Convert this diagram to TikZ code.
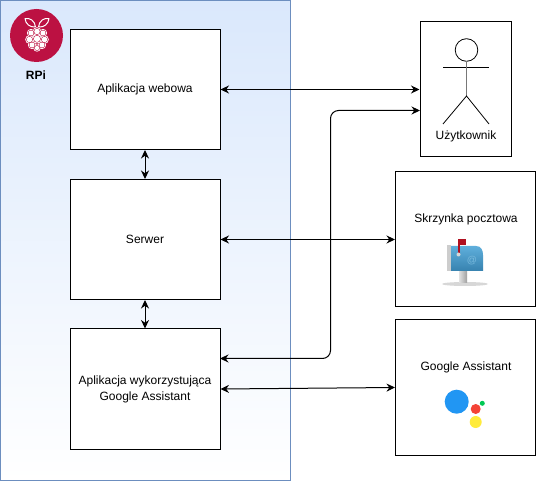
\documentclass[tikz,border=0pt]{standalone}
\usepackage{fontspec}
\setmainfont{Liberation Sans}
\usetikzlibrary{arrows.meta}
\definecolor{rpired}{RGB}{188,17,66}
\tikzset{
  blok/.style={draw=black,fill=white,line width=1pt,minimum width=150,minimum height=120,inner sep=0pt,align=center,font=\fontsize{12}{16}\selectfont},
  zew/.style={draw=black,fill=white,line width=1pt,minimum width=140,minimum height=135,inner sep=0pt},
  opis/.style={inner sep=0pt,align=center,font=\fontsize{12}{16}\selectfont},
  lacze/.style={line width=1pt,{Stealth[length=8.5pt,width=8pt]}-{Stealth[length=8.5pt,width=8pt]}},
}
\begin{document}
\begin{tikzpicture}[x=1pt,y=1pt,yscale=-1,xscale=1]
\useasboundingbox (0,0) rectangle (536,481);

%RPi area
\path [top color={rgb,255:red,218;green,232;blue,252},bottom color=white] (0.5,0.5) rectangle (290.5,480.5);
\draw [color={rgb,255:red,108;green,142;blue,191},line width=1pt] (0.5,0.5) rectangle (290.5,480.5);

%RPi logo
\fill [rpired] (36.5,35.5) circle [radius=26.5];
\draw [white,line width=1pt,line join=round] (35.5,27) .. controls (30,27.5) and (25.5,24) .. (25,18.5) .. controls (30,17.5) and (35,21) .. (35.5,27) ;
\draw [white,line width=1pt,line join=round] (38.5,27) .. controls (44,27.5) and (48.5,24) .. (49,18.5) .. controls (44,17.5) and (39,21) .. (38.5,27) ;
\foreach \bx/\by/\br in {37/31.5/2.8,31/33/2.6,43/33/2.6,37/38.8/3.2,29.5/39.5/2.8,44.5/39.5/2.8,32/45/2.6,42/45/2.6,37/48/2.2}
  \fill [white] (\bx,\by) circle [radius=\br+1.5];
\foreach \bx/\by/\br in {37/31.5/2.8,31/33/2.6,43/33/2.6,37/38.8/3.2,29.5/39.5/2.8,44.5/39.5/2.8,32/45/2.6,42/45/2.6,37/48/2.2}
  \fill [rpired] (\bx,\by) circle [radius=\br+0.6];
\foreach \bx/\by/\br in {37/31.5/2.8,31/33/2.6,43/33/2.6,37/38.8/3.2,29.5/39.5/2.8,44.5/39.5/2.8,32/45/2.6,42/45/2.6,37/48/2.2}
  \fill [white] (\bx,\by) circle [radius=\br];

%Boxes
\node (web) [blok] at (145,89.5) {Aplikacja webowa};
\node (serwer) [blok] at (145,239.5) {Serwer};
\node (asystent) [blok] at (145,389) {Aplikacja wykorzystująca\\Google Assistant};
\node (user) [zew,minimum width=91,minimum height=135] at (465.5,89.5) {};
\node (poczta) [zew] at (465.5,239.5) {};
\node (google) [zew] at (465.5,387.5) {};

% Text Node
\node (rpi) [opis,font=\fontsize{12}{14}\bfseries] at (36,75) {RPi};
\node (uzytkownik) [opis] at (466,136) {Użytkownik};
\node (skrzynka) [opis] at (466,219) {Skrzynka pocztowa};
\node (asystant) [opis] at (466,367) {Google Assistant};

%Stick figure
\draw [line width=0.8pt] (466.5,50) circle [radius=11.3];
\draw [line width=0.8pt] (443,67.5) -- (489,67.5);
\draw [line width=1.8pt,color={rgb,255:red,120;green,120;blue,120}] (466.5,61.3) -- (466.5,96);
\draw [line width=0.8pt] (443,124) -- (466.5,96) -- (489,124);

%Mailbox
\fill [color={rgb,255:red,215;green,215;blue,215}] (465,284) ellipse [x radius=23,y radius=2];
\shade [left color={rgb,255:red,225;green,225;blue,225},right color={rgb,255:red,160;green,160;blue,160}] (459,271) rectangle (467,283);
\fill [color={rgb,255:red,205;green,205;blue,205}] (447,245) rectangle (451,271);
\shade [top color={rgb,255:red,95;green,175;blue,220},bottom color={rgb,255:red,55;green,130;blue,175}] (451,246) -- (476,246) .. controls (481,246) and (483,250) .. (483,255) -- (483,271) -- (451,271) -- cycle;
\fill [color={rgb,255:red,176;green,16;blue,32}] (458,239) rectangle (466,245);
\fill [color={rgb,255:red,176;green,16;blue,32}] (457.5,239) rectangle (459.5,253);
\fill [color={rgb,255:red,215;green,215;blue,215}] (458.5,254.5) circle [radius=2];
\node (at) [inner sep=0pt,font=\fontsize{10}{10}\selectfont,color={rgb,255:red,120;green,185;blue,220}] at (472,261) {@};

%Assistant dots
\fill [color={rgb,255:red,33;green,150;blue,243}] (456.7,401.7) circle [radius=12];
\fill [color={rgb,255:red,244;green,67;blue,54}] (475.7,409) circle [radius=5];
\fill [color={rgb,255:red,0;green,200;blue,83}] (482.3,403.3) circle [radius=2.5];
\fill [color={rgb,255:red,255;green,235;blue,59}] (475.7,422) circle [radius=6];

%Connectors
\coordinate (asystin) at (220,358.5);
\coordinate (zakret) at (330.5,110.5);
\coordinate (userin) at (420,110.5);
\draw [lacze] (web.east) -- (user.west);
\draw [lacze] (serwer.east) -- (poczta.west);
\draw [lacze] (asystent.east) -- (google.west);
\draw [lacze,rounded corners=8] (asystin) -| (zakret) -- (userin);
\draw [lacze] (web.south) -- (serwer.north);
\draw [lacze] (serwer.south) -- (asystent.north);

\end{tikzpicture}
\end{document}
